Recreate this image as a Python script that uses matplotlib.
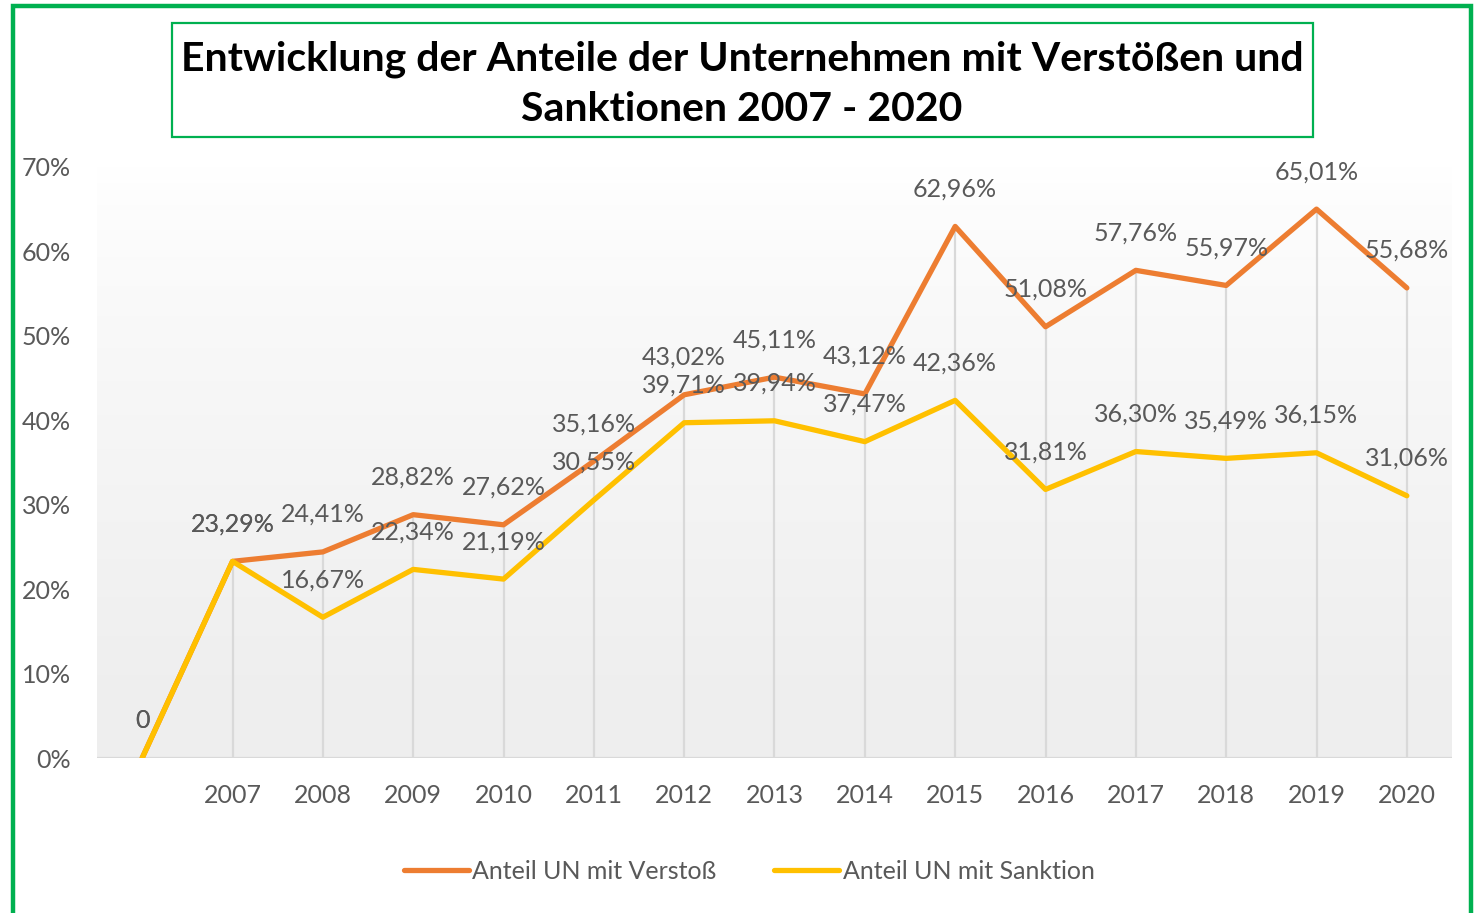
import matplotlib
matplotlib.use("Agg")
import matplotlib.pyplot as plt
import numpy as np
from matplotlib.patches import Rectangle
from matplotlib.ticker import FuncFormatter

categories = ["", "2007", "2008", "2009", "2010", "2011", "2012", "2013", "2014",
              "2015", "2016", "2017", "2018", "2019", "2020"]
verstoss = [0, 23.29, 24.41, 28.82, 27.62, 35.16, 43.02, 45.11, 43.12,
            62.96, 51.08, 57.76, 55.97, 65.01, 55.68]
sanktion = [0, 23.29, 16.67, 22.34, 21.19, 30.55, 39.71, 39.94, 37.47,
            42.36, 31.81, 36.30, 35.49, 36.15, 31.06]
series_names = ["Anteil UN mit Verstoß", "Anteil UN mit Sanktion"]
title = "Entwicklung der Anteile der Unternehmen mit Verstößen und\nSanktionen 2007 - 2020"

plt.rcParams['font.family'] = ['Lato', 'DejaVu Sans']
W, H = 1478, 913
fig = plt.figure(figsize=(W / 100, H / 100), dpi=100)

GRAY = "#595959"
ORANGE = "#ED7D31"
YELLOW = "#FFC000"
GREEN = "#00B050"
FS = 18

def fx(x):
    return x / W

def fy(y):
    return 1 - y / H

ax = fig.add_axes([fx(97), fy(758), fx(1452) - fx(97), fy(167) - fy(758)])
x = np.arange(len(categories))

# gradient background (white at top, light gray at bottom)
yy = np.linspace(0, 1, 256)
grad = (1.0 - 0.065 * np.clip(yy / 0.9, 0, 1) ** 0.8).reshape(-1, 1)
ax.imshow(np.dstack([grad, grad, grad]), extent=[0, 1, 0, 1], transform=ax.transAxes,
          aspect='auto', zorder=0, interpolation='bilinear')

# drop lines
for xi, v, s in zip(x, verstoss, sanktion):
    top = max(v, s)
    if top > 0:
        ax.vlines(xi, 0, top, color="#d9d9d9", lw=1.6, zorder=1)

ax.axhline(0, color="#d9d9d9", lw=1.6, zorder=1)

l1, = ax.plot(x, verstoss, color=ORANGE, lw=3.8, solid_capstyle='round',
              solid_joinstyle='round', zorder=3, label=series_names[0])
l2, = ax.plot(x, sanktion, color=YELLOW, lw=3.8, solid_capstyle='round',
              solid_joinstyle='round', zorder=4, label=series_names[1])

def fmt_label(v):
    if v == 0:
        return "0"
    return f"{v:.2f}".replace(".", ",") + "%"

for series in (verstoss, sanktion):
    for xi, v in zip(x, series):
        ax.annotate(fmt_label(v), (xi, v), xytext=(0, 27), textcoords="offset points",
                    ha="center", va="center", fontsize=FS, color=GRAY, zorder=5)

ax.set_xlim(-0.5, len(categories) - 0.5)
ax.set_ylim(0, 70)
ax.set_yticks(np.arange(0, 71, 10))
ax.yaxis.set_major_formatter(FuncFormatter(lambda v, p: f"{int(v)}%"))
ax.set_xticks(x)
ax.set_xticklabels(categories)
ax.tick_params(axis='both', length=0, labelsize=FS, labelcolor=GRAY)
ax.tick_params(axis='x', pad=19)
ax.tick_params(axis='y', pad=19)
for sp in ax.spines.values():
    sp.set_visible(False)
ax.patch.set_visible(False)

leg = fig.legend(handles=[l1, l2], loc="center", bbox_to_anchor=(fx(749), fy(871)),
                 ncol=2, frameon=False, fontsize=FS, labelcolor=GRAY,
                 handlelength=2.6, handletextpad=0.15, columnspacing=2.3)

# borders
fig.patches.append(Rectangle((fx(13), fy(930)), fx(1471) - fx(13), fy(6) - fy(930),
                             transform=fig.transFigure, fill=False, ec=GREEN, lw=3.2))
fig.patches.append(Rectangle((fx(172), fy(137)), fx(1313) - fx(172), fy(23) - fy(137),
                             transform=fig.transFigure, fill=False, ec=GREEN, lw=1.6))

fig.text(fx(742), fy(84), title, ha="center", va="center", fontsize=29.5,
         fontweight="bold", color="black", linespacing=1.45)

fig.savefig("out.png", dpi=100)
